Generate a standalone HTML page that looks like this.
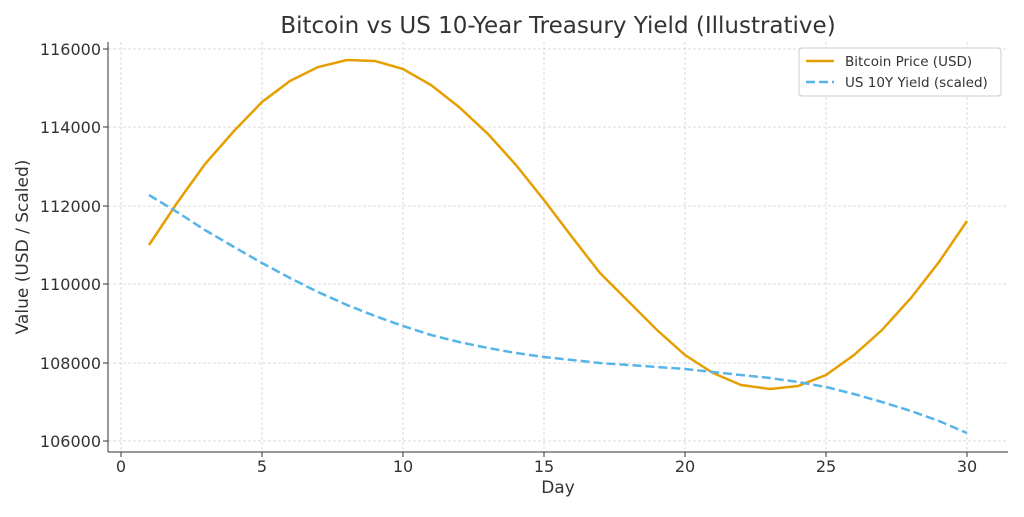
<!DOCTYPE html>
<html><head><meta charset="utf-8"><style>
html,body{margin:0;padding:0;background:#fff;}
svg text{font-family:"DejaVu Sans","Liberation Sans",sans-serif;fill:#333;}
</style></head><body>
<svg width="1024" height="512" viewBox="0 0 1024 512" xmlns="http://www.w3.org/2000/svg">
<rect width="1024" height="512" fill="#fff"/>
<text x="558" y="33" font-size="23" text-anchor="middle">Bitcoin vs US 10-Year Treasury Yield (Illustrative)</text>
<g stroke="#d0d0d0" stroke-width="0.8" stroke-dasharray="3,2">
<line x1="121" y1="42" x2="121" y2="452"/><line x1="262" y1="42" x2="262" y2="452"/><line x1="403" y1="42" x2="403" y2="452"/><line x1="544" y1="42" x2="544" y2="452"/><line x1="685" y1="42" x2="685" y2="452"/><line x1="826" y1="42" x2="826" y2="452"/><line x1="967" y1="42" x2="967" y2="452"/>
<line x1="108" y1="49" x2="1008" y2="49"/><line x1="108" y1="127" x2="1008" y2="127"/><line x1="108" y1="206" x2="1008" y2="206"/><line x1="108" y1="284" x2="1008" y2="284"/><line x1="108" y1="363" x2="1008" y2="363"/><line x1="108" y1="441" x2="1008" y2="441"/>
</g>
<polyline fill="none" stroke="#E69F00" stroke-width="2.5" points="149,245 177,203 205,164 234,131 262,102 290,81 318,67 347,60 375,61 403,69 431,85 459,107 488,134 516,165 544,200 572,237 600,273 629,302 657,330 685,355 713,373 741,385 770,389 798,386 826,375 854,355 882,330 911,298 939,262 967,221"/>
<polyline fill="none" stroke="#56B4E9" stroke-width="2.5" stroke-dasharray="9,4" points="149,195 177,212 205,230 234,247 262,263 290,278 318,292 347,305 375,316 403,326 431,335 459,342 488,348 516,353 544,357 572,360 600,363 629,365 657,367 685,369 713,372 741,375 770,378 798,382 826,387 854,394 882,402 911,411 939,421 967,433"/>
<g stroke="#333" stroke-width="1" fill="none">
<line x1="108" y1="42" x2="108" y2="452"/><line x1="108" y1="452" x2="1008" y2="452"/>
</g>
<g stroke="#333" stroke-width="1">
<line x1="121" y1="452" x2="121" y2="457"/><line x1="262" y1="452" x2="262" y2="457"/><line x1="403" y1="452" x2="403" y2="457"/><line x1="544" y1="452" x2="544" y2="457"/><line x1="685" y1="452" x2="685" y2="457"/><line x1="826" y1="452" x2="826" y2="457"/><line x1="967" y1="452" x2="967" y2="457"/>
<line x1="103" y1="49" x2="108" y2="49"/><line x1="103" y1="127" x2="108" y2="127"/><line x1="103" y1="206" x2="108" y2="206"/><line x1="103" y1="284" x2="108" y2="284"/><line x1="103" y1="363" x2="108" y2="363"/><line x1="103" y1="441" x2="108" y2="441"/>
</g>
<g font-size="16" text-anchor="middle">
<text x="121" y="472">0</text><text x="262" y="472">5</text><text x="403" y="472">10</text><text x="544" y="472">15</text><text x="685" y="472">20</text><text x="826" y="472">25</text><text x="967" y="472">30</text>
</g>
<g font-size="16" text-anchor="end">
<text x="101" y="55">116000</text><text x="101" y="133">114000</text><text x="101" y="212">112000</text><text x="101" y="290">110000</text><text x="101" y="369">108000</text><text x="101" y="447">106000</text>
</g>
<text x="558" y="493" font-size="17" text-anchor="middle">Day</text>
<text transform="translate(28,247) rotate(-90)" font-size="17" text-anchor="middle">Value (USD / Scaled)</text>
<rect x="799" y="48" width="202" height="48" rx="3" fill="#fff" stroke="#ccc"/>
<line x1="806" y1="61" x2="834" y2="61" stroke="#E69F00" stroke-width="2.5"/>
<line x1="806" y1="82" x2="834" y2="82" stroke="#56B4E9" stroke-width="2.5" stroke-dasharray="9,4"/>
<text x="845" y="66" font-size="13.5">Bitcoin Price (USD)</text>
<text x="845" y="87" font-size="13.5">US 10Y Yield (scaled)</text>
</svg>
</body></html>
